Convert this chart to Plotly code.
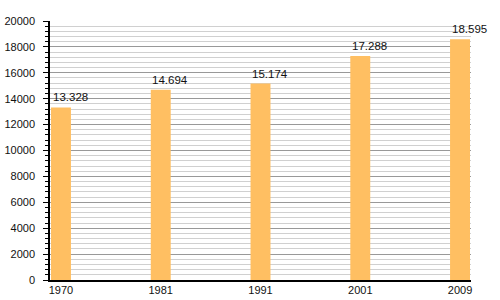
import plotly.graph_objects as go

years = ["1970", "1981", "1991", "2001", "2009"]
population = [13328, 14694, 15174, 17288, 18595]
y_ticks = [0, 2000, 4000, 6000, 8000, 10000, 12000, 14000, 16000, 18000, 20000]

xs = list(range(len(years)))
labels = [f"{v:,}".replace(",", ".") for v in population]

fig = go.Figure()
fig.add_trace(go.Bar(
    x=xs, y=population, width=0.2,
    marker=dict(color="#FFBF62", line=dict(width=0)),
    hoverinfo="skip",
))
for x, v, t in zip(xs, population, labels):
    fig.add_annotation(
        x=x - 0.105, y=v, text=t, showarrow=False,
        xanchor="left", yanchor="bottom", yshift=2,
        font=dict(family="Liberation Sans, Arial, sans-serif", size=11.5, color="#111"),
    )

fig.update_layout(
    width=500, height=300,
    margin=dict(l=50, r=29, t=21, b=20),
    paper_bgcolor="white", plot_bgcolor="white",
    showlegend=False,
    font=dict(family="Liberation Sans, Arial, sans-serif", size=11, color="#111"),
    xaxis=dict(
        range=[-0.11, 4.11],
        tickvals=xs, ticktext=years,
        showgrid=False, zeroline=False,
        showline=True, linecolor="black", linewidth=1.5,
        ticks="", fixedrange=True, automargin=False,
        ticklabelstandoff=-1,
    ),
    yaxis=dict(
        range=[0, 20000],
        tickvals=y_ticks, tickformat="d",
        showgrid=True, gridcolor="#999999", gridwidth=1,
        zeroline=False, automargin=False,
        showline=True, linecolor="black", linewidth=1.5,
        ticks="outside", ticklen=5, tickcolor="black", tickwidth=1,
        ticklabelstandoff=6,
        minor=dict(dtick=400, showgrid=True, gridcolor="#d0d0d0", gridwidth=1,
                   ticks="outside", ticklen=3, tickcolor="black", tickwidth=1),
    ),
)
fig.write_html("out.html")
